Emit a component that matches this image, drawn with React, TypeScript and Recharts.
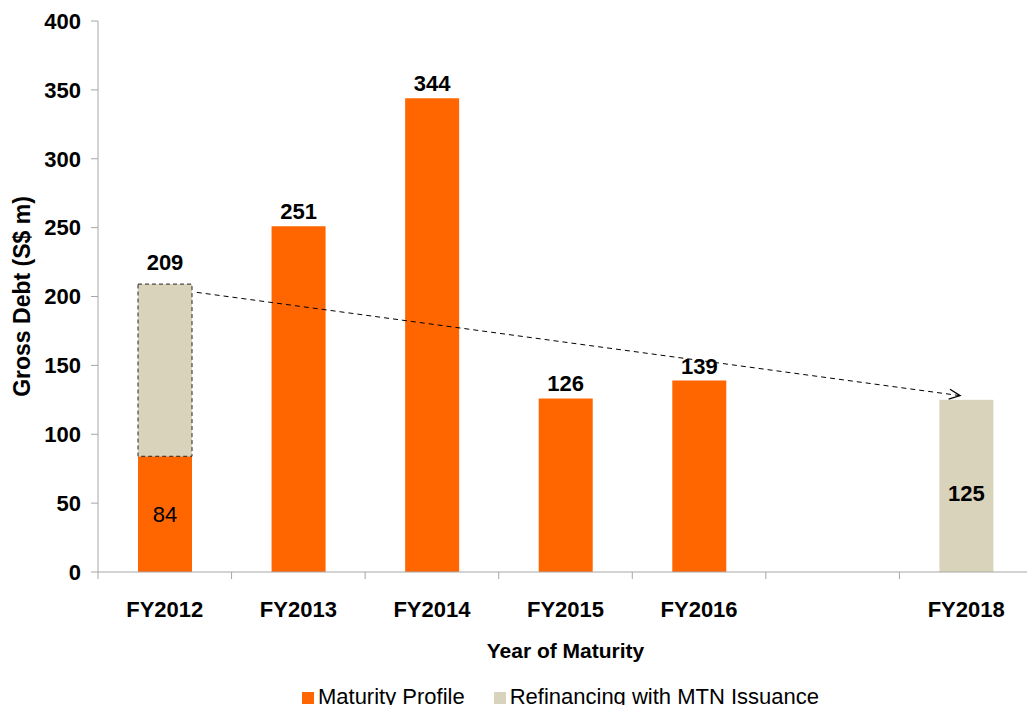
import { BarChart, Bar, XAxis, YAxis, Legend, LabelList, ReferenceLine } from 'recharts';

const categories = ['FY2012', 'FY2013', 'FY2014', 'FY2015', 'FY2016', 'FY2017', 'FY2018'];
const maturityProfile = [84, 251, 344, 126, 139, null, null];
const refinancingMTN = [125, null, null, null, null, null, 125];
const yTicks = [0, 50, 100, 150, 200, 250, 300, 350, 400];
// start and end of the dashed "refinanced into" arrow
const arrowPoints = [
  { x: 'FY2012', y: 203 },
  { x: 'FY2018', y: 128 },
];

const data = categories.map((year, i) => ({
  year,
  maturity: maturityProfile[i],
  refinancing: refinancingMTN[i],
}));

const FONT = '"Liberation Sans", Arial, sans-serif';
const ORANGE = '#FF6600';
const BEIGE = '#D9D3BC';
const AXIS = '#A6A6A6';

const XTick = (props: any) => {
  const { x, y, payload } = props;
  const half = payload.offset ?? 67;
  const label = payload.value === 'FY2017' ? '' : payload.value;
  return (
    <g>
      <line x1={x - half} x2={x - half} y1={y} y2={y + 7} stroke={AXIS} />
      <text x={x} y={y + 45} textAnchor="middle" fontFamily={FONT} fontSize={22} fontWeight="bold" fill="#000">
        {label}
      </text>
    </g>
  );
};

const RefinancingShape = (props: any) => {
  const { x, y, width, height, fill, index } = props;
  if (!height) return null;
  return (
    <rect
      x={x}
      y={y}
      width={width}
      height={height}
      fill={fill}
      stroke={index === 0 ? '#222' : 'none'}
      strokeDasharray="4 3"
    />
  );
};

const maturityLabel = (props: any) => {
  const { x, y, width, height, value, index } = props;
  if (value == null) return null;
  if (index === 0) {
    return (
      <text x={x + width / 2} y={y + height / 2 + 8} textAnchor="middle" fontFamily={FONT} fontSize={22} fill="#000">
        {value}
      </text>
    );
  }
  return (
    <text x={x + width / 2} y={y - 7} textAnchor="middle" fontFamily={FONT} fontSize={22} fontWeight="bold" fill="#000">
      {value}
    </text>
  );
};

const refinancingLabel = (props: any) => {
  const { x, y, width, height, value, index } = props;
  if (value == null) return null;
  if (index === 0) {
    const total = (maturityProfile[0] ?? 0) + value;
    return (
      <text x={x + width / 2} y={y - 14} textAnchor="middle" fontFamily={FONT} fontSize={22} fontWeight="bold" fill="#000">
        {total}
      </text>
    );
  }
  return (
    <text x={x + width / 2} y={y + height / 2 + 15} textAnchor="middle" fontFamily={FONT} fontSize={22} fontWeight="bold" fill="#000">
      {value}
    </text>
  );
};

const ArrowLine = (props: any) => {
  const { x1, y1, x2, y2 } = props;
  return (
    <g>
      <defs>
        <marker id="openArrow" markerWidth="14" markerHeight="12" refX="12" refY="6" orient="auto" markerUnits="userSpaceOnUse">
          <path d="M1,1 L12,6 L1,11" fill="none" stroke="#000" strokeWidth={1.2} />
        </marker>
      </defs>
      <line
        x1={x1 + 32}
        y1={y1}
        x2={x2 - 6}
        y2={y2}
        stroke="#000"
        strokeWidth={1}
        strokeDasharray="5 4"
        markerEnd="url(#openArrow)"
      />
    </g>
  );
};

export default function App() {
  return (
    <div style={{ margin: -8, width: 1035, height: 713, overflow: 'hidden', background: '#fff' }}>
      <BarChart width={1035} height={713} data={data} margin={{ top: 21, right: 2, left: 0, bottom: 3 }} barSize={54}>
        <XAxis
          dataKey="year"
          interval={0}
          tickSize={0}
          tickMargin={0}
          tickLine={false}
          axisLine={{ stroke: AXIS }}
          tick={<XTick />}
          height={112}
          label={{
            value: 'Year of Maturity',
            position: 'insideBottom',
            offset: 26,
            style: { fontFamily: FONT, fontSize: 21, fontWeight: 'bold', fill: '#000' },
          }}
        />
        <YAxis
          domain={[0, 400]}
          ticks={yTicks}
          width={98}
          tickSize={7}
          tickMargin={10}
          axisLine={{ stroke: AXIS }}
          tickLine={{ stroke: AXIS }}
          tick={{ fontFamily: FONT, fontSize: 22, fontWeight: 'bold', fill: '#000' }}
          label={{
            value: 'Gross Debt (S$ m)',
            angle: -90,
            position: 'insideLeft',
            offset: 22,
            style: { textAnchor: 'middle', fontFamily: FONT, fontSize: 23, fontWeight: 'bold', fill: '#000' },
          }}
        />
        <Legend
          verticalAlign="bottom"
          iconType="square"
          iconSize={12}
          wrapperStyle={{ fontFamily: FONT, fontSize: 22, left: 98, width: 935 }}
          formatter={(value: string, entry: any, index: number) => (
            <span style={{ color: '#000', marginRight: index === 0 ? 19 : 0 }}>{value}</span>
          )}
        />
        <Bar dataKey="maturity" name="Maturity Profile" stackId="a" fill={ORANGE} isAnimationActive={false}>
          <LabelList dataKey="maturity" content={maturityLabel} />
        </Bar>
        <Bar
          dataKey="refinancing"
          name="Refinancing with MTN Issuance"
          stackId="a"
          fill={BEIGE}
          shape={<RefinancingShape />}
          isAnimationActive={false}
        >
          <LabelList dataKey="refinancing" content={refinancingLabel} />
        </Bar>
        <ReferenceLine segment={arrowPoints} shape={<ArrowLine />} ifOverflow="visible" />
      </BarChart>
    </div>
  );
}
